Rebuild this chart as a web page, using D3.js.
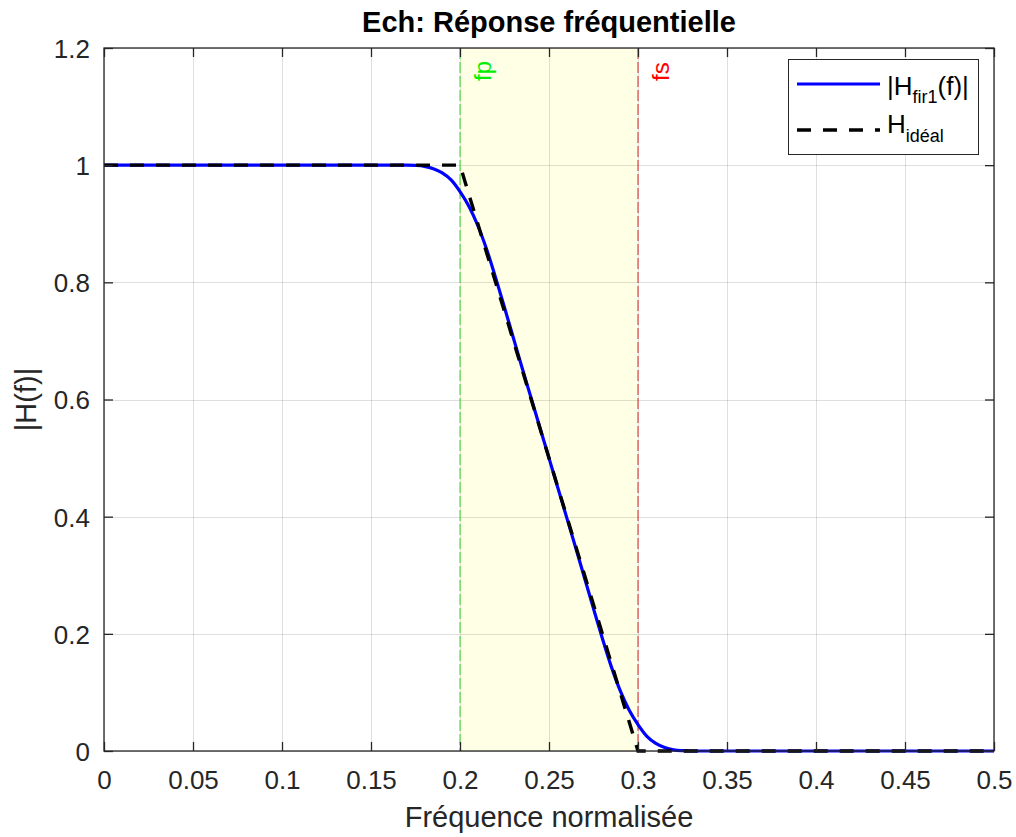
<!DOCTYPE html>
<html>
<head>
<meta charset="utf-8">
<script src="https://cdn.jsdelivr.net/npm/d3@7"></script>
<style>
  html, body { margin: 0; padding: 0; background: #ffffff; }
  svg { display: block; font-family: "Liberation Sans", Arial, sans-serif; }
</style>
</head>
<body>
<svg id="chart" width="1016" height="837"></svg>
<script>
// Magnitude response of the FIR low-pass filter (fir1 design)
const freqFir = [0, 0.05, 0.10, 0.15, 0.16, 0.17, 0.175, 0.18, 0.185, 0.19, 0.195,
  0.20, 0.205, 0.21, 0.215, 0.22, 0.225, 0.23, 0.235, 0.24, 0.245, 0.25,
  0.255, 0.26, 0.265, 0.27, 0.275, 0.28, 0.285, 0.29, 0.295, 0.30,
  0.305, 0.31, 0.315, 0.32, 0.325, 0.33, 0.34, 0.40, 0.45, 0.50];
const magFir = [1, 1, 1, 1, 1, 1, 0.9995, 0.998, 0.994, 0.987, 0.975,
  0.955, 0.930, 0.897, 0.856, 0.808, 0.757, 0.705, 0.653, 0.602, 0.551, 0.5,
  0.449, 0.398, 0.347, 0.295, 0.243, 0.192, 0.144, 0.103, 0.070, 0.045,
  0.025, 0.013, 0.006, 0.002, 0.0005, 0, 0, 0, 0, 0];

// Ideal template: flat pass band, linear transition, zero stop band
const freqIdeal = [0, 0.2, 0.3, 0.5];
const magIdeal = [1, 1, 0, 0];

// Band edges
const fp = 0.2;
const fs = 0.3;

const xTicks = [0, 0.05, 0.1, 0.15, 0.2, 0.25, 0.3, 0.35, 0.4, 0.45, 0.5];
const yTicks = [0, 0.2, 0.4, 0.6, 0.8, 1, 1.2];

const plotL = 104, plotR = 994, plotT = 48, plotB = 751;
const svg = d3.select("#chart");
const x = d3.scaleLinear().domain([0, 0.5]).range([plotL, plotR]);
const y = d3.scaleLinear().domain([0, 1.2]).range([plotB, plotT]);
const axisColor = "#262626";

// Transition band shading
svg.append("rect")
  .attr("x", x(fp)).attr("y", y(1.2))
  .attr("width", x(fs) - x(fp)).attr("height", y(0) - y(1.2))
  .attr("fill", "rgb(255,255,230)");

// Grid
const grid = svg.append("g").attr("stroke", "rgba(38,38,38,0.15)").attr("stroke-width", 1);
xTicks.forEach(t => grid.append("line")
  .attr("x1", Math.round(x(t)) + 0.5).attr("x2", Math.round(x(t)) + 0.5)
  .attr("y1", plotT).attr("y2", plotB));
yTicks.forEach(t => grid.append("line")
  .attr("x1", plotL).attr("x2", plotR)
  .attr("y1", Math.round(y(t)) + 0.5).attr("y2", Math.round(y(t)) + 0.5));

// Band edge markers
svg.append("line")
  .attr("x1", x(fp)).attr("x2", x(fp)).attr("y1", plotT).attr("y2", plotB)
  .attr("stroke", "#22dd22").attr("stroke-width", 1).attr("stroke-dasharray", "11,3");
svg.append("line")
  .attr("x1", x(fs)).attr("x2", x(fs)).attr("y1", plotT).attr("y2", plotB)
  .attr("stroke", "#dd2222").attr("stroke-width", 1).attr("stroke-dasharray", "11,3");

svg.append("text")
  .attr("transform", `translate(${x(fp) + 31},${81}) rotate(-90)`)
  .attr("font-size", 24).attr("fill", "#00ee00").text("fp");
svg.append("text")
  .attr("transform", `translate(${x(fs) + 31},${81}) rotate(-90)`)
  .attr("font-size", 24).attr("fill", "#ff0000").text("fs");

// Curves
const line = d3.line().x(d => x(d[0])).y(d => y(d[1]));
svg.append("path")
  .datum(d3.zip(freqFir, magFir))
  .attr("d", line.curve(d3.curveMonotoneX))
  .attr("fill", "none").attr("stroke", "#0000ff").attr("stroke-width", 3.2);
svg.append("path")
  .datum(d3.zip(freqIdeal, magIdeal))
  .attr("d", d3.line().x(d => x(d[0])).y(d => y(d[1])))
  .attr("fill", "none").attr("stroke", "#000000").attr("stroke-width", 3.4)
  .attr("stroke-dasharray", "14,12");

// Axes with inward ticks on all four sides
const fmt = d => String(+d.toFixed(2));
const gx = svg.append("g").attr("transform", `translate(0,${plotB})`)
  .call(d3.axisBottom(x).tickValues(xTicks).tickFormat(fmt).tickSize(-9).tickPadding(20));
const gy = svg.append("g").attr("transform", `translate(${plotL},0)`)
  .call(d3.axisLeft(y).tickValues(yTicks).tickFormat(fmt).tickSize(-9).tickPadding(14));
const gt = svg.append("g").attr("transform", `translate(0,${plotT})`)
  .call(d3.axisTop(x).tickValues(xTicks).tickFormat("").tickSize(-9));
const gr = svg.append("g").attr("transform", `translate(${plotR},0)`)
  .call(d3.axisRight(y).tickValues(yTicks).tickFormat("").tickSize(-9));
[gx, gy, gt, gr].forEach(g => {
  g.select(".domain").remove();
  g.selectAll(".tick line").attr("stroke", axisColor).attr("stroke-width", 1.3);
  g.selectAll(".tick text").attr("fill", axisColor).attr("font-size", 26)
    .attr("font-family", "Liberation Sans, Arial, sans-serif");
});
gy.selectAll(".tick text").attr("dy", "0.36em");

svg.append("rect")
  .attr("x", plotL).attr("y", plotT).attr("width", plotR - plotL).attr("height", plotB - plotT)
  .attr("fill", "none").attr("stroke", axisColor).attr("stroke-width", 1.3);

// Titles
svg.append("text")
  .attr("x", (plotL + plotR) / 2).attr("y", 32).attr("text-anchor", "middle")
  .attr("font-size", 29).attr("font-weight", "bold").attr("fill", "#000")
  .text("Ech: Réponse fréquentielle");
svg.append("text")
  .attr("x", (plotL + plotR) / 2).attr("y", 827).attr("text-anchor", "middle")
  .attr("font-size", 29).attr("fill", axisColor)
  .text("Fréquence normalisée");
svg.append("text")
  .attr("transform", `translate(36,${(plotT + plotB) / 2}) rotate(-90)`)
  .attr("text-anchor", "middle").attr("font-size", 29).attr("fill", axisColor)
  .text("|H(f)|");

// Legend
const lg = svg.append("g");
lg.append("rect").attr("x", 788.5).attr("y", 59.5).attr("width", 190).attr("height", 95)
  .attr("fill", "#fff").attr("stroke", axisColor).attr("stroke-width", 1);
lg.append("line").attr("x1", 797).attr("x2", 880).attr("y1", 84).attr("y2", 84)
  .attr("stroke", "#0000ff").attr("stroke-width", 3.2);
lg.append("line").attr("x1", 797).attr("x2", 880).attr("y1", 130).attr("y2", 130)
  .attr("stroke", "#000").attr("stroke-width", 3.4).attr("stroke-dasharray", "14,12");
const t1 = lg.append("text").attr("x", 887).attr("y", 95).attr("font-size", 26).attr("fill", "#000");
t1.append("tspan").text("|H");
t1.append("tspan").attr("font-size", 18).attr("dy", 8).text("fir1");
t1.append("tspan").attr("dy", -8).text("(f)|");
const t2 = lg.append("text").attr("x", 887).attr("y", 133).attr("font-size", 26).attr("fill", "#000");
t2.append("tspan").text("H");
t2.append("tspan").attr("font-size", 18).attr("dy", 9).text("idéal");
</script>
</body>
</html>
